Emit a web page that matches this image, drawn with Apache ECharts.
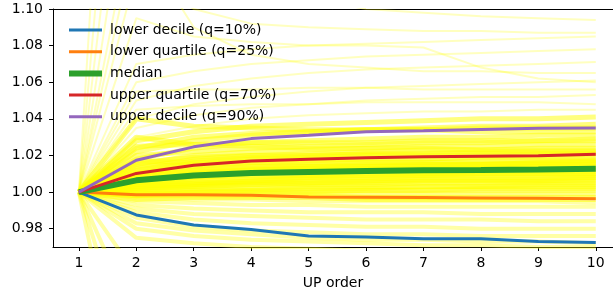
<!DOCTYPE html>
<html>
<head>
<meta charset="utf-8">
<script src="https://cdn.jsdelivr.net/npm/echarts@6/dist/echarts.min.js"></script>
<style>
  html, body { margin: 0; padding: 0; background: #fff; }
  #chart { width: 613px; height: 296px; }
</style>
</head>
<body>
<div id="chart"></div>
<script>
const upOrder = [1, 2, 3, 4, 5, 6, 7, 8, 9, 10];
const yTicks = [0.98, 1.00, 1.02, 1.04, 1.06, 1.08, 1.10];

const lowerDecile = [1.000, 0.9875, 0.982, 0.9795, 0.976, 0.9755, 0.9745, 0.9745, 0.973, 0.9725];
const lowerQuartile = [1.000, 0.9986, 0.9985, 0.9982, 0.9973, 0.9972, 0.997, 0.9968, 0.9966, 0.9964];
const median = [1.000, 1.0064, 1.009, 1.0104, 1.011, 1.0115, 1.0119, 1.012, 1.0123, 1.0128];
const upperQuartile = [1.000, 1.0102, 1.0146, 1.017, 1.0179, 1.0188, 1.0193, 1.0196, 1.0198, 1.0207];
const upperDecile = [1.000, 1.0174, 1.0247, 1.0292, 1.031, 1.0329, 1.0335, 1.0342, 1.0349, 1.035];

// individual trajectories (faint yellow background)
const fanHigh = [
  [1, 1.500, 1.450, 1.420, 1.400, 1.390, 1.380, 1.370, 1.360, 1.350],
  [1, 1.350, 1.300, 1.280, 1.260, 1.250, 1.240, 1.240, 1.230, 1.230],
  [1, 1.260, 1.200, 1.180, 1.170, 1.160, 1.150, 1.150, 1.140, 1.140],
  [1, 1.200, 1.150, 1.130, 1.120, 1.115, 1.110, 1.108, 1.106, 1.105],
  [1, 1.160, 1.130, 1.115, 1.106, 1.100, 1.098, 1.096, 1.095, 1.094],
  [1, 1.120, 1.100, 1.092, 1.090, 1.089, 1.088, 1.088, 1.087, 1.087],
  [1, 1.070, 1.075, 1.078, 1.080, 1.081, 1.082, 1.083, 1.084, 1.085],
  [1, 1.095, 1.085, 1.082, 1.080, 1.080, 1.079, 1.068, 1.062, 1.060],
  [1, 1.060, 1.066, 1.070, 1.072, 1.074, 1.075, 1.076, 1.077, 1.078],
  [1, 1.050, 1.058, 1.062, 1.065, 1.067, 1.068, 1.069, 1.070, 1.071],
  [1, 1.140, 1.090, 1.075, 1.070, 1.068, 1.066, 1.066, 1.065, 1.065],
  [1, 1.040, 1.048, 1.052, 1.055, 1.057, 1.058, 1.059, 1.060, 1.061],
  [1, 1.055, 1.056, 1.056, 1.057, 1.057, 1.056, 1.056, 1.056, 1.056],
  [1, 1.035, 1.042, 1.046, 1.048, 1.050, 1.051, 1.052, 1.052, 1.053],
  [1, 1.045, 1.047, 1.048, 1.048, 1.049, 1.049, 1.049, 1.049, 1.048],
  [1, 1.030, 1.036, 1.040, 1.042, 1.043, 1.044, 1.044, 1.045, 1.045]
];
const fanMid = [
  [1, 1.028, 1.033, 1.036, 1.037, 1.038, 1.039, 1.040, 1.040, 1.041],
  [1, 1.022, 1.028, 1.031, 1.033, 1.034, 1.035, 1.036, 1.036, 1.037],
  [1, 1.040, 1.036, 1.035, 1.034, 1.034, 1.034, 1.033, 1.033, 1.033],
  [1, 1.024, 1.030, 1.032, 1.033, 1.034, 1.034, 1.035, 1.035, 1.035],
  [1, 1.018, 1.024, 1.027, 1.028, 1.029, 1.030, 1.030, 1.031, 1.031],
  [1, 1.020, 1.022, 1.024, 1.025, 1.026, 1.027, 1.027, 1.028, 1.029],
  [1, 1.025, 1.026, 1.027, 1.027, 1.027, 1.028, 1.028, 1.028, 1.028],
  [1, 1.015, 1.020, 1.022, 1.023, 1.024, 1.025, 1.025, 1.026, 1.026],
  [1, 1.013, 1.018, 1.020, 1.021, 1.022, 1.023, 1.023, 1.024, 1.024],
  [1, 1.030, 1.026, 1.025, 1.024, 1.024, 1.024, 1.023, 1.023, 1.023],
  [1, 1.012, 1.017, 1.019, 1.020, 1.021, 1.021, 1.022, 1.022, 1.022],
  [1, 1.016, 1.019, 1.020, 1.020, 1.021, 1.021, 1.021, 1.021, 1.021],
  [1, 1.010, 1.016, 1.018, 1.019, 1.020, 1.020, 1.020, 1.021, 1.021],
  [1, 1.010, 1.014, 1.016, 1.017, 1.018, 1.018, 1.019, 1.019, 1.019],
  [1, 1.017, 1.016, 1.017, 1.018, 1.018, 1.018, 1.019, 1.019, 1.018],
  [1, 1.008, 1.012, 1.014, 1.015, 1.016, 1.016, 1.017, 1.017, 1.017],
  [1, 1.009, 1.012, 1.013, 1.014, 1.014, 1.015, 1.015, 1.016, 1.017],
  [1, 1.014, 1.015, 1.016, 1.016, 1.016, 1.016, 1.016, 1.016, 1.016],
  [1, 1.011, 1.013, 1.014, 1.014, 1.015, 1.015, 1.015, 1.016, 1.016],
  [1, 1.006, 1.010, 1.012, 1.013, 1.014, 1.014, 1.015, 1.015, 1.015],
  [1, 1.005, 1.008, 1.010, 1.011, 1.012, 1.012, 1.013, 1.013, 1.014],
  [1, 1.006, 1.009, 1.011, 1.012, 1.013, 1.013, 1.014, 1.014, 1.014],
  [1, 1.008, 1.011, 1.012, 1.013, 1.013, 1.013, 1.013, 1.014, 1.013],
  [1, 1.009, 1.010, 1.011, 1.011, 1.012, 1.012, 1.012, 1.012, 1.012],
  [1, 1.004, 1.007, 1.008, 1.009, 1.010, 1.010, 1.011, 1.011, 1.011],
  [1, 1.007, 1.008, 1.009, 1.009, 1.009, 1.010, 1.010, 1.010, 1.010],
  [1, 1.003, 1.004, 1.006, 1.008, 1.009, 1.009, 1.010, 1.010, 1.010],
  [1, 1.005, 1.006, 1.007, 1.008, 1.008, 1.009, 1.009, 1.009, 1.009],
  [1, 1.003, 1.005, 1.006, 1.007, 1.007, 1.008, 1.008, 1.008, 1.008],
  [1, 1.002, 1.004, 1.005, 1.005, 1.006, 1.007, 1.007, 1.007, 1.008],
  [1, 1.004, 1.005, 1.005, 1.006, 1.006, 1.006, 1.006, 1.006, 1.007],
  [1, 1.001, 1.003, 1.004, 1.005, 1.005, 1.006, 1.006, 1.006, 1.006],
  [1, 1.002, 1.003, 1.004, 1.004, 1.004, 1.005, 1.005, 1.005, 1.005],
  [1, 0.998, 1.000, 1.001, 1.002, 1.002, 1.003, 1.003, 1.004, 1.004],
  [1, 1.001, 1.002, 1.002, 1.003, 1.003, 1.003, 1.003, 1.003, 1.003],
  [1, 0.999, 1.000, 1.000, 1.000, 1.001, 1.001, 1.002, 1.002, 1.002],
  [1, 1.000, 1.001, 1.001, 1.001, 1.001, 1.001, 1.001, 1.001, 1.001],
  [1, 0.999, 0.999, 0.999, 0.999, 0.999, 0.999, 0.999, 0.999, 0.999],
  [1, 0.998, 0.998, 0.998, 0.998, 0.997, 0.997, 0.997, 0.997, 0.997],
  [1, 0.996, 0.997, 0.997, 0.997, 0.996, 0.996, 0.996, 0.996, 0.996]
];
const fanLow = [
  [1, 0.997, 0.996, 0.996, 0.995, 0.995, 0.995, 0.995, 0.995, 0.994],
  [1, 0.995, 0.994, 0.993, 0.993, 0.992, 0.992, 0.992, 0.992, 0.992],
  [1, 0.993, 0.991, 0.990, 0.989, 0.989, 0.989, 0.988, 0.988, 0.988],
  [1, 0.991, 0.988, 0.987, 0.986, 0.985, 0.985, 0.985, 0.984, 0.984],
  [1, 0.989, 0.985, 0.983, 0.982, 0.981, 0.981, 0.980, 0.980, 0.980],
  [1, 0.986, 0.981, 0.979, 0.978, 0.977, 0.977, 0.976, 0.976, 0.976],
  [1, 0.983, 0.979, 0.977, 0.975, 0.974, 0.974, 0.973, 0.973, 0.972],
  [1, 0.980, 0.976, 0.974, 0.973, 0.972, 0.971, 0.971, 0.970, 0.970],
  [1, 0.975, 0.972, 0.970, 0.969, 0.968, 0.967, 0.967, 0.966, 0.966],
  [1, 0.955, 0.950, 0.948, 0.946, 0.945, 0.944, 0.944, 0.943, 0.943],
  [1, 0.930, 0.925, 0.922, 0.920, 0.919, 0.918, 0.918, 0.917, 0.917],
  [1, 0.900, 0.890, 0.885, 0.882, 0.880, 0.879, 0.878, 0.877, 0.877],
  [1, 0.850, 0.840, 0.835, 0.832, 0.830, 0.829, 0.828, 0.827, 0.827]
];

const chart = echarts.init(document.getElementById('chart'), null, { renderer: 'canvas' });

const toPairs = (vals) => vals.map((v, i) => [upOrder[i], v]);
const font = 'DejaVu Sans';

const fanGroup = (lines, width, opacity) => lines.map((vals) => ({
  type: 'line',
  data: toPairs(vals),
  symbol: 'none',
  silent: true,
  z: 1,
  lineStyle: { color: '#ffff00', width: width, opacity: opacity }
}));

const mainLine = (name, vals, color, width) => ({
  name: name,
  type: 'line',
  data: toPairs(vals),
  symbol: 'none',
  z: 5,
  itemStyle: { color: color },
  lineStyle: { color: color, width: width }
});

const legendItem = (name, width) => ({ name: name, lineStyle: { width: width } });

const option = {
  animation: false,
  grid: { left: 53, top: 9, width: 560, height: 238 },
  legend: {
    orient: 'vertical',
    left: 61,
    top: 18,
    itemWidth: 33,
    itemHeight: 14,
    itemGap: 7.7,
    itemStyle: { opacity: 0 },
    textStyle: { fontFamily: font, fontSize: 14, color: '#000', padding: [0, 0, 0, 3] },
    data: [
      legendItem('lower decile (q=10%)', 3),
      legendItem('lower quartile (q=25%)', 3),
      legendItem('median', 6),
      legendItem('upper quartile (q=70%)', 3),
      legendItem('upper decile (q=90%)', 3)
    ]
  },
  xAxis: [{
    type: 'value',
    min: 0.55,
    max: 10.3,
    name: 'UP order',
    nameLocation: 'middle',
    nameGap: 29,
    nameTextStyle: { fontFamily: font, fontSize: 14, color: '#000' },
    axisLine: { lineStyle: { color: '#000', width: 1 } },
    axisTick: { show: true, length: 4, lineStyle: { color: '#000' }, customValues: upOrder },
    axisLabel: { fontFamily: font, fontSize: 14, color: '#000', margin: 9, customValues: upOrder },
    splitLine: { show: false }
  }, {
    // top spine only
    type: 'value',
    position: 'top',
    min: 0.55,
    max: 10.3,
    axisLine: { show: true, lineStyle: { color: '#000', width: 1 } },
    axisTick: { show: false },
    axisLabel: { show: false },
    splitLine: { show: false }
  }],
  yAxis: {
    type: 'value',
    min: 0.97,
    max: 1.10,
    axisLine: { show: true, lineStyle: { color: '#000', width: 1 } },
    axisTick: { show: true, length: 4, lineStyle: { color: '#000' }, customValues: yTicks },
    axisLabel: {
      fontFamily: font, fontSize: 14, color: '#000', margin: 10,
      customValues: yTicks,
      formatter: (v) => v.toFixed(2)
    },
    splitLine: { show: false }
  },
  series: fanGroup(fanHigh, 2, 0.25)
    .concat(fanGroup(fanMid, 5, 0.5))
    .concat(fanGroup(fanLow, 4, 0.35))
    .concat([
      mainLine('lower decile (q=10%)', lowerDecile, '#1f77b4', 3),
      mainLine('lower quartile (q=25%)', lowerQuartile, '#ff7f0e', 3),
      mainLine('median', median, '#2ca02c', 6),
      mainLine('upper quartile (q=70%)', upperQuartile, '#d62728', 3),
      mainLine('upper decile (q=90%)', upperDecile, '#9467bd', 3)
    ])
};

chart.setOption(option);
</script>
</body>
</html>
